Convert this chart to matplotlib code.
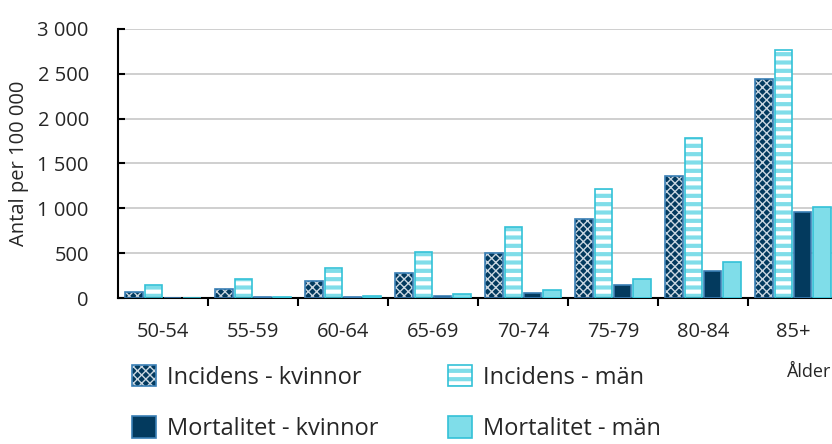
import matplotlib
matplotlib.use("Agg")
import matplotlib.pyplot as plt
import numpy as np
from matplotlib.patches import Patch
from matplotlib.legend_handler import HandlerTuple

plt.rcParams['font.family'] = ['Open Sans', 'DejaVu Sans']

categories = ["50-54", "55-59", "60-64", "65-69", "70-74", "75-79", "80-84", "85+"]
incidens_kvinnor = [64, 97, 190, 282, 498, 880, 1364, 2446]
incidens_man = [145, 208, 340, 510, 788, 1220, 1784, 2766]
mortalitet_kvinnor = [4, 6, 15, 22, 56, 150, 301, 956]
mortalitet_man = [5, 8, 22, 45, 93, 210, 401, 1015]
yticks = [0, 500, 1000, 1500, 2000, 2500, 3000]
ytick_labels = ["0", "500", "1 000", "1 500", "2 000", "2 500", "3 000"]

NAVY = "#033a5e"
NAVY_EDGE = "#3a7fb5"
CYAN = "#7fdde9"
CYAN_EDGE = "#33c1d7"
TXT = "#262626"

fig = plt.figure(figsize=(8.32, 4.44), dpi=100)
ax = fig.add_axes([118/832, 1-298/444, 720/832, 269/444])

x = np.arange(len(categories))
w = 0.194
offs = [-0.3225, -0.1075, 0.1075, 0.3225]

for y in yticks[1:]:
    ax.axhline(y, color="#cccccc", lw=1.3, zorder=0)

# Incidens kvinnor: hatched navy
plt.rcParams['hatch.linewidth'] = 1.0
ax.bar(x + offs[0], incidens_kvinnor, w, color=NAVY, edgecolor="#c9d6e0", hatch="xxxx", lw=0, zorder=2)
ax.bar(x + offs[0], incidens_kvinnor, w, facecolor="none", edgecolor=NAVY_EDGE, lw=1.2, zorder=3)
ax.bar(x + offs[2], mortalitet_kvinnor, w, color=NAVY, edgecolor=NAVY_EDGE, lw=1.2, zorder=3)

leg_kw = dict(frameon=False, loc="center left", fontsize=17, handlelength=1.02,
              handleheight=1.02, handletextpad=0.47, labelspacing=1.12,
              borderpad=0, borderaxespad=0, labelcolor=TXT,
              handler_map={tuple: HandlerTuple(ndivide=1)})
h_ik = (Patch(facecolor=NAVY, edgecolor="#c9d6e0", hatch="xxxx", lw=0),
        Patch(facecolor="none", edgecolor=NAVY_EDGE, lw=1.2))
h_mk = Patch(facecolor=NAVY, edgecolor=NAVY_EDGE, lw=1.2)
leg1 = fig.legend([h_ik, h_mk], ["Incidens - kvinnor", "Mortalitet - kvinnor"],
                  bbox_to_anchor=(132/832, 1-403/444), **leg_kw)

# Incidens man: striped
plt.rcParams['hatch.linewidth'] = 3.0
ax.bar(x + offs[1], incidens_man, w, color="white", edgecolor=CYAN, hatch="--", lw=0, zorder=2)
ax.bar(x + offs[1], incidens_man, w, facecolor="none", edgecolor=CYAN_EDGE, lw=1.2, zorder=3)
ax.bar(x + offs[3], mortalitet_man, w, color=CYAN, edgecolor=CYAN_EDGE, lw=1.2, zorder=3)

h_im = (Patch(facecolor="white", edgecolor=CYAN, hatch="--", lw=0),
        Patch(facecolor="none", edgecolor=CYAN_EDGE, lw=1.2))
h_mm = Patch(facecolor=CYAN, edgecolor=CYAN_EDGE, lw=1.2)
leg2 = fig.legend([h_im, h_mm], ["Incidens - män", "Mortalitet - män"],
                  bbox_to_anchor=(448/832, 1-403/444), **leg_kw)

ax.set_xlim(-0.5, len(categories) - 0.5)
ax.set_ylim(0, 3000)
ax.set_yticks(yticks)
ax.set_yticklabels(ytick_labels)
ax.set_xticks(x)
ax.set_xticklabels(categories)
ax.set_xticks(np.arange(0.5, len(categories), 1.0), minor=True)
ax.tick_params(axis='x', which='major', length=0, pad=17, labelsize=14.5, labelcolor=TXT)
ax.tick_params(axis='x', which='minor', length=6, width=1.5, direction='out')
ax.tick_params(axis='y', which='major', length=5, width=1.5, direction='in', labelsize=14.5, pad=21, labelcolor=TXT)
for s in ["top", "right"]:
    ax.spines[s].set_visible(False)
ax.spines["left"].set_linewidth(1.5)
ax.spines["bottom"].set_linewidth(1.5)
ax.set_ylabel("Antal per 100 000", fontsize=14.5, color=TXT, labelpad=6)

fig.text(831/832, 1-372/444, "Ålder", fontsize=13, ha="right", va="center", color=TXT)

fig.savefig("out.png", dpi=100)
